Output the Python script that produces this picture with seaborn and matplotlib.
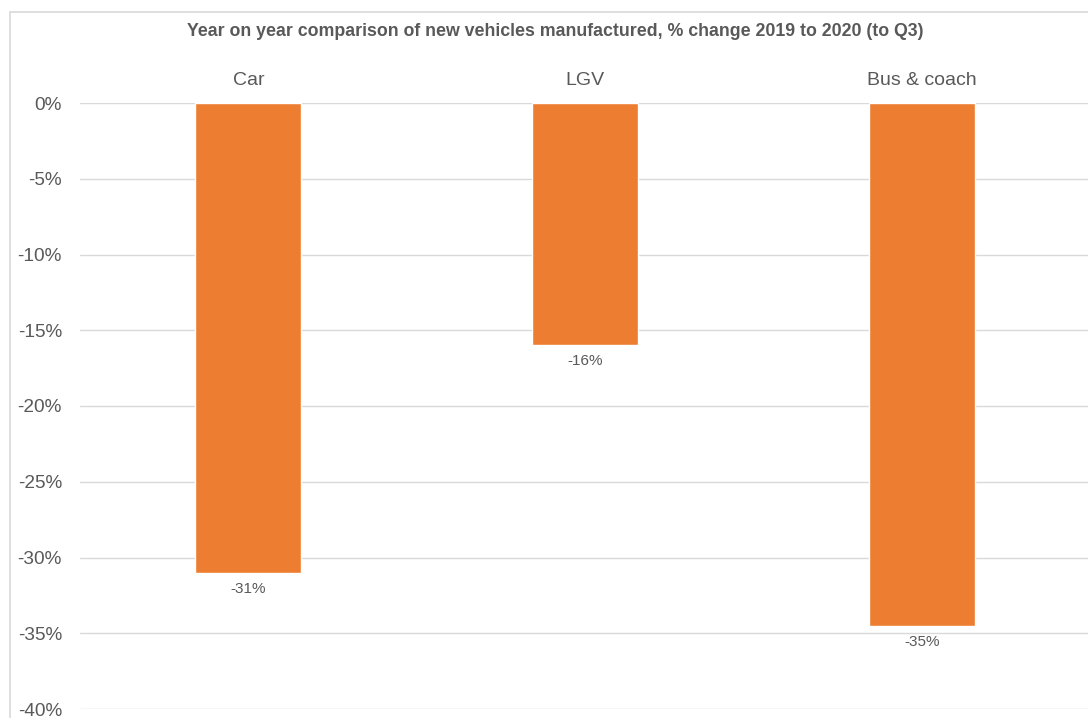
import matplotlib
matplotlib.use("Agg")
import matplotlib.pyplot as plt
import seaborn as sns
import pandas as pd
from matplotlib.patches import Rectangle

# Dados
categorias = ["Car", "LGV", "Bus & coach"]
variacao = [-31.0, -16.0, -34.5]
rotulos = ["-31%", "-16%", "-35%"]
yticks = [0, -5, -10, -15, -20, -25, -30, -35, -40]

df = pd.DataFrame({"Categoria": categorias, "Variacao": variacao})

sns.set_theme(style="whitegrid")
plt.rcParams["font.family"] = ["Liberation Sans", "DejaVu Sans"]
plt.rcParams["axes.unicode_minus"] = False

cinza = "#595959"
laranja = "#ED7D31"

fig = plt.figure(figsize=(10.88, 7.18), dpi=100)
ax = fig.add_axes([80 / 1088, 1 - 709 / 718, 1010 / 1088, (709 - 103) / 718])

# moldura do gráfico
fig.patches.append(Rectangle((10 / 1088, -0.1), 1.2, 1.1 - 12 / 718,
                             transform=fig.transFigure, fill=False,
                             edgecolor="#D9D9D9", linewidth=1.2))

sns.barplot(data=df, x="Categoria", y="Variacao", color=laranja,
            width=0.315, saturation=1, ax=ax)

ax.set_ylim(-40, 0)
ax.set_xlim(-0.5, 2.5)
ax.set_yticks(yticks)
ax.set_yticklabels([f"{t}%" for t in yticks])
ax.xaxis.tick_top()
ax.set_xlabel("")
ax.set_ylabel("")
ax.tick_params(axis="x", length=0, pad=10, labelsize=14, labelcolor=cinza)
ax.tick_params(axis="y", length=0, pad=13, labelsize=13.7, labelcolor=cinza)
ax.grid(axis="y", color="#D9D9D9", linewidth=1)
ax.grid(axis="x", visible=False)
for s in ax.spines.values():
    s.set_visible(False)

for i, (v, r) in enumerate(zip(variacao, rotulos)):
    ax.annotate(r, (i, v), xytext=(0, -6.5), textcoords="offset points",
                ha="center", va="top", fontsize=11, color=cinza)

fig.text(0.5106, 1 - 31 / 718,
         "Year on year comparison of new vehicles manufactured, % change 2019 to 2020 (to Q3)",
         ha="center", va="center", fontsize=12.8, fontweight="bold", color=cinza)

fig.savefig("out.png", dpi=100)
